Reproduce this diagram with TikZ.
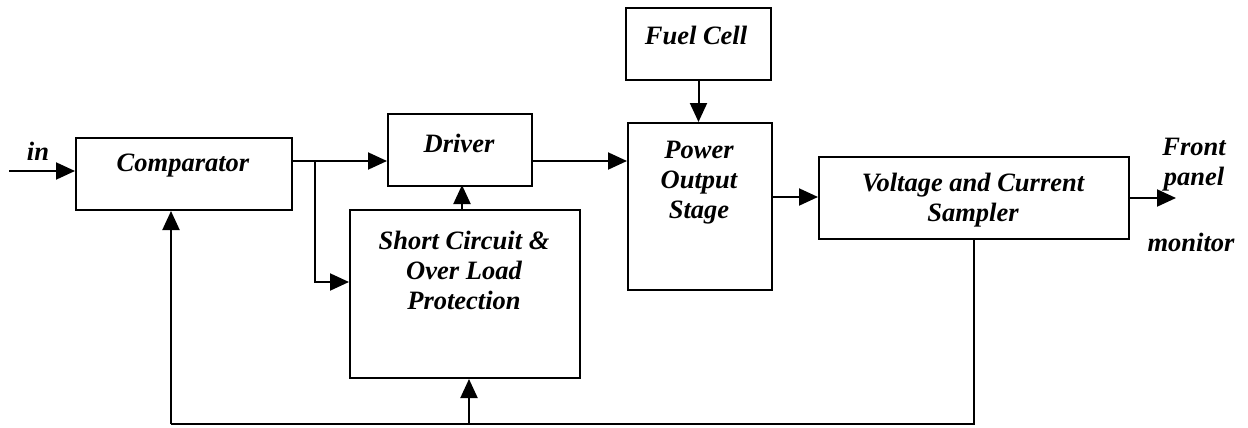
\documentclass[tikz,border=0pt]{standalone}
\usepackage{fontspec}
\setmainfont{Liberation Serif}
\usetikzlibrary{arrows.meta}
\begin{document}
\begin{tikzpicture}[x=1pt,y=-1pt,
  box/.style={draw,line width=2pt,rectangle,inner sep=0pt,anchor=north west},
  txt/.style={font=\fontsize{26.5}{30}\selectfont\bfseries\itshape,align=center,inner sep=0pt},
  wire/.style={line width=2pt},
  arr/.style={wire,-{Triangle[length=19pt,width=17pt]}}]
\useasboundingbox (0,0) rectangle (1248,428);

% blocks
\node[box,minimum width=216pt,minimum height=72pt] (comp) at (75,137) {};
\node[box,minimum width=144pt,minimum height=72pt] (drv) at (387,113) {};
\node[box,minimum width=230pt,minimum height=168pt] (scp) at (349,209) {};
\node[box,minimum width=145pt,minimum height=72pt] (fuel) at (625,7) {};
\node[box,minimum width=144pt,minimum height=167pt] (pwr) at (627,122) {};
\node[box,minimum width=310pt,minimum height=82pt] (vcs) at (818,156) {};

% block texts
\node[txt] (tcomp) at (183,166) {Comparator};
\node[txt] (tdrv) at (459,143) {Driver};
\node[txt] (tscp) at (464,270) {Short Circuit \&\\Over Load\\Protection};
\node[txt] (tfuel) at (696,35) {Fuel Cell};
\node[txt] (tpwr) at (699,183) {Power\\Output\\Stage};
\node[txt] (tvcs) at (973,200) {Voltage and Current\\Sampler};

% external labels
\node[txt] (tin) at (38,151) {in};
\node[txt] (tfront) at (1194,165) {Front\\panel};
\node[txt] (tmon) at (1191,242) {monitor};

% signal path
\coordinate (inL) at (9,171);
\draw[arr] (inL) -- (inL -| comp.west);
\coordinate (split) at (315,161);
\draw[wire] (comp.east |- split) -- (split);
\draw[arr] (split) -- (split -| drv.west);
\coordinate (splitdn) at (315,282);
\draw[arr] (split) -- (splitdn) -- (splitdn -| scp.west);
\draw[arr] (462,209) -- (462,185);
\draw[arr] (drv.east |- 0,161) -- (pwr.west |- 0,161);
\draw[arr] (fuel.south) -- (pwr.north -| fuel.south);
\draw[arr] (pwr.east |- 0,197) -- (vcs.west |- 0,197);
\coordinate (outR) at (1176,198);
\draw[arr] (vcs.east |- outR) -- (outR);

% feedback loop
\coordinate (fbR) at (974,424);
\coordinate (fbL) at (171,424);
\coordinate (fbM) at (469,424);
\draw[wire] (vcs.south -| fbR) -- (fbR) -- (fbL);
\draw[arr] (fbL) -- (fbL |- comp.south);
\draw[arr] (fbM) -- (fbM |- scp.south);
\end{tikzpicture}
\end{document}
